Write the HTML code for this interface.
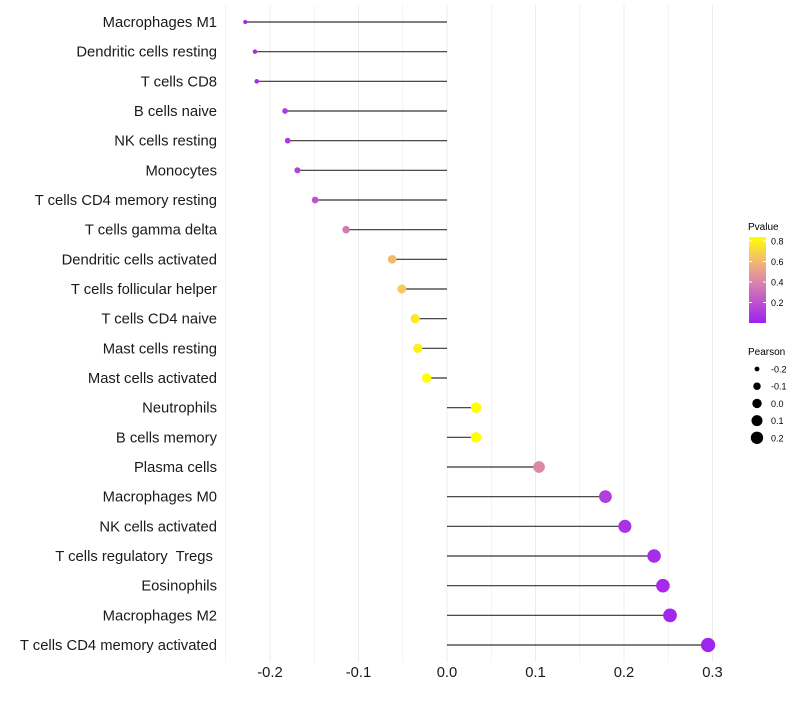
<!DOCTYPE html>
<html><head><meta charset="utf-8"><style>
body{margin:0;background:#fff;font-family:"Liberation Sans",sans-serif}
</style></head><body>
<svg id="chart" width="800" height="700" xmlns="http://www.w3.org/2000/svg">
<defs><linearGradient id="pg" x1="0" y1="1" x2="0" y2="0">
<stop offset="0" stop-color="#a020f0"/><stop offset="0.45" stop-color="#d77fb0"/><stop offset="0.75" stop-color="#f5c06a"/><stop offset="1" stop-color="#ffff00"/></linearGradient></defs>
<g id="grid"></g>
<g id="marks"></g>
<g id="axes"></g>
<g id="legend">
<text x="748" y="230" font-size="10" fill="#000">Pvalue</text>
<rect x="749" y="237" width="17" height="86" fill="url(#pg)"/>
<text x="748" y="355" font-size="10" fill="#000">Pearson</text>
</g>
</svg>
<script>
const categories=["Macrophages M1","Dendritic cells resting","T cells CD8","B cells naive","NK cells resting","Monocytes","T cells CD4 memory resting","T cells gamma delta","Dendritic cells activated","T cells follicular helper","T cells CD4 naive","Mast cells resting","Mast cells activated","Neutrophils","B cells memory","Plasma cells","Macrophages M0","NK cells activated","T cells regulatory  Tregs ","Eosinophils","Macrophages M2","T cells CD4 memory activated"];
const pearson=[-0.228,-0.217,-0.215,-0.183,-0.18,-0.169,-0.149,-0.114,-0.062,-0.051,-0.036,-0.033,-0.023,0.033,0.033,0.104,0.179,0.201,0.234,0.244,0.252,0.295];
const pvalue=[0.02,0.05,0.05,0.1,0.1,0.13,0.2,0.35,0.6,0.65,0.75,0.78,0.83,0.83,0.83,0.4,0.12,0.07,0.05,0.04,0.03,0.01];
const xTicks=[-0.2,-0.1,0.0,0.1,0.2,0.3];
const xTickLabels=["-0.2","-0.1","0.0","0.1","0.2","0.3"];
const pTicks=[0.2,0.4,0.6,0.8];
const sizeLegend=[-0.2,-0.1,0.0,0.1,0.2];
const NS="http://www.w3.org/2000/svg";
const X=v=>447+v*885;
const Y=i=>22+i*(623/21);
const R=v=>Math.sqrt(Math.max(1,4+90*(v+0.228)));
function lerp(a,b,t){return a.map((x,k)=>Math.round(x+(b[k]-x)*t));}
const stops=[[0,[160,32,240]],[0.37,[215,127,176]],[0.62,[245,192,106]],[0.82,[255,255,0]]];
function col(p){p=Math.max(0,Math.min(0.82,p));for(let k=1;k<stops.length;k++){if(p<=stops[k][0]){const t=(p-stops[k-1][0])/(stops[k][0]-stops[k-1][0]);return "rgb("+lerp(stops[k-1][1],stops[k][1],t).join(",")+")";}}return "rgb(255,255,0)";}
function mk(tag,attrs,parent){const e=document.createElementNS(NS,tag);for(const k in attrs)e.setAttribute(k,attrs[k]);parent.appendChild(e);return e;}
const grid=document.getElementById('grid'),marks=document.getElementById('marks'),axes=document.getElementById('axes'),legend=document.getElementById('legend');
for(let v=-0.25;v<=0.3001;v+=0.05){const g=mk('line',{x1:X(v),x2:X(v),y1:5,y2:662,stroke:'#ececec','stroke-width':Math.abs(Math.round(v*20))%2===0?1:0.6},grid);

}
xTicks.forEach((v,i)=>{const t=mk('text',{x:X(v),y:677,'font-size':14.8,'text-anchor':'middle',fill:'#1a1a1a'},axes);t.textContent=xTickLabels[i];

});
categories.forEach((c,i)=>{const y=Y(i);
const l=mk('line',{x1:X(0),x2:X(pearson[i]),y1:y,y2:y,stroke:'#333','stroke-width':1.2},marks);


const d=mk('circle',{cx:X(pearson[i]),cy:y,r:R(pearson[i]),fill:col(pvalue[i])},marks);


const t=mk('text',{x:217,y:y+5,'font-size':14.8,'text-anchor':'end',fill:'#1a1a1a'},axes);t.textContent=c;
t.setAttribute('xml:space','preserve');
t.style.whiteSpace='pre';

});
pTicks.forEach(p=>{const y=323-p*102.5;
mk('line',{x1:749,x2:752,y1:y,y2:y,stroke:'#fff'},legend);mk('line',{x1:763,x2:766,y1:y,y2:y,stroke:'#fff'},legend);
const t=mk('text',{x:771,y:y+3.5,'font-size':9,fill:'#000'},legend);t.textContent=p.toFixed(1);

});
sizeLegend.forEach((v,i)=>{const y=369+i*17.2;
const c=mk('circle',{cx:757,cy:y,r:R(v)*0.95,fill:'#000'},legend);


const t=mk('text',{x:771,y:y+3.5,'font-size':9,fill:'#000'},legend);t.textContent=v.toFixed(1);

});
</script>
</body></html>
